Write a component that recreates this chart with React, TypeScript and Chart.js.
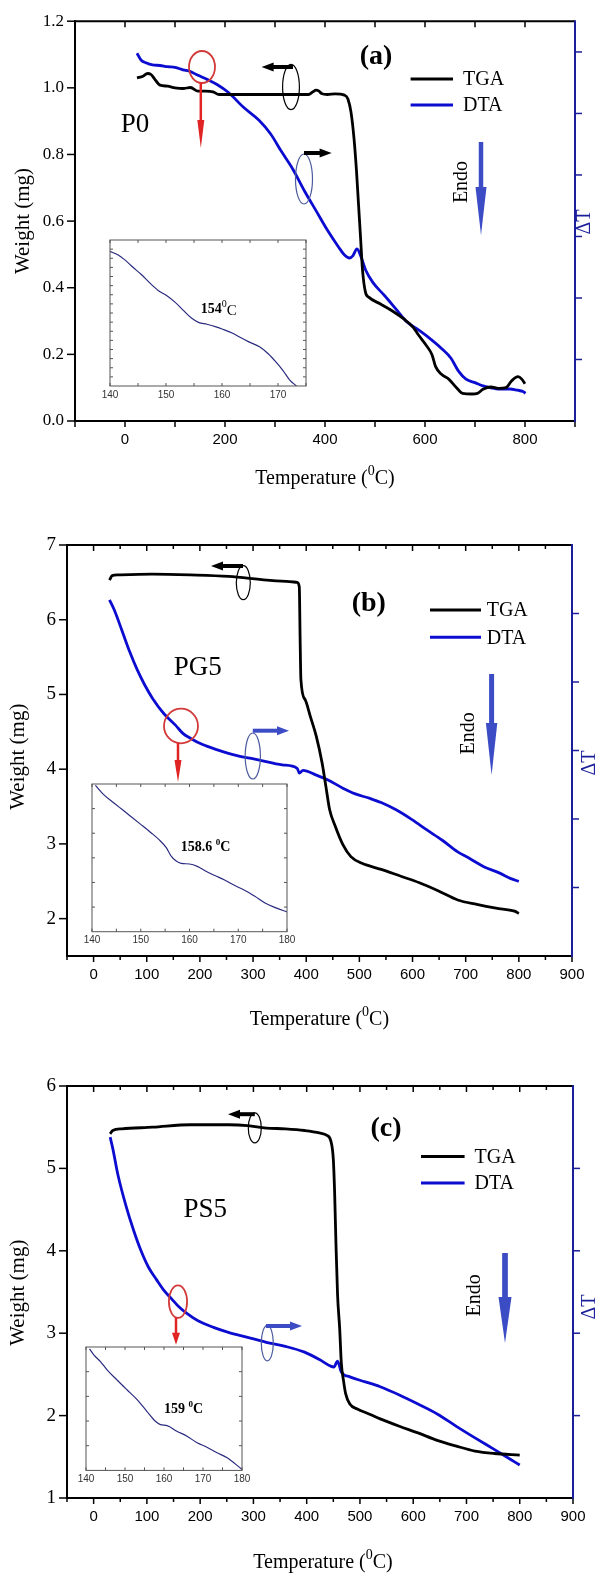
import React, { useEffect, useRef } from 'react';
import { Chart, registerables } from 'chart.js';

Chart.register(...registerables);

const SERIF = '"Liberation Serif", "Times New Roman", serif';
const SANS = '"Liberation Sans", Arial, sans-serif';
const PAGE_W = 596;
const BLUE = '#0c0cd0';
const NAVY = '#1b1f9a';
const ARROW_BLUE = '#3b4cc4';
const RED = '#e02424';
const ELLIPSE_BLUE = '#4b5a9e';
const INSET_LINE = '#2b2b80';

// ---------- Panel (a) : P0 ----------
const tgaTempA = [24, 36, 45, 52, 59, 70, 85, 100, 116, 131, 146, 161, 176, 188, 207, 250, 300, 350, 367, 376, 382, 388, 393, 405, 420, 439, 446, 452, 458, 463, 467, 471, 475, 481, 488, 511, 534, 557, 576, 587, 602, 614, 621, 633, 648, 663, 675, 694, 705, 716, 732, 747, 762, 773, 786, 794, 800];
const tgaWeightA = [1.03, 1.035, 1.043, 1.04, 1.027, 1.008, 1.005, 1.0, 0.998, 1.001, 0.99, 0.99, 0.988, 0.98, 0.98, 0.98, 0.98, 0.98, 0.98, 0.988, 0.993, 0.99, 0.983, 0.98, 0.982, 0.978, 0.966, 0.927, 0.848, 0.75, 0.651, 0.553, 0.454, 0.386, 0.371, 0.351, 0.331, 0.307, 0.282, 0.258, 0.228, 0.199, 0.164, 0.14, 0.125, 0.1, 0.083, 0.081, 0.083, 0.095, 0.102, 0.098, 0.1, 0.12, 0.133, 0.125, 0.112];
const dtaTempA = [24, 32, 43, 55, 70, 85, 100, 116, 131, 146, 165, 184, 207, 237, 268, 291, 313, 336, 359, 382, 405, 427, 439, 449, 456, 464, 472, 481, 496, 519, 542, 564, 587, 610, 633, 652, 667, 682, 701, 716, 732, 747, 770, 785, 796, 801];
const dtaSignalA = [5.98, 5.87, 5.82, 5.79, 5.78, 5.76, 5.75, 5.71, 5.68, 5.62, 5.55, 5.47, 5.34, 5.10, 4.89, 4.67, 4.38, 4.09, 3.74, 3.42, 3.10, 2.83, 2.70, 2.65, 2.69, 2.80, 2.67, 2.46, 2.25, 2.04, 1.82, 1.61, 1.48, 1.34, 1.18, 1.02, 0.81, 0.68, 0.62, 0.57, 0.54, 0.52, 0.52, 0.50, 0.48, 0.45];
const insetTempA = [140, 141.4, 142.6, 144.1, 145.6, 147.1, 148.6, 150.1, 151.6, 153.1, 154.6, 155.8, 157.3, 158.8, 160.3, 161.8, 163.3, 164.8, 166.7, 168.2, 169.7, 170.9, 172.1, 173.3];
const insetSignalA = [93.1, 90.8, 87.4, 82.1, 77.1, 71.3, 66.1, 62.6, 58, 52.3, 46.8, 44, 42.7, 41.1, 39, 36.7, 33.5, 30.5, 27.1, 22.5, 16.3, 10.6, 4.1, 0];

// ---------- Panel (b) : PG5 ----------
const tgaTempB = [30, 35, 46, 110, 182, 254, 326, 369, 383, 387, 388.5, 390, 398, 408, 419, 430, 437, 444, 455, 469, 484, 505, 541, 577, 613, 649, 685, 721, 757, 792, 800];
const tgaWeightB = [6.53, 6.59, 6.60, 6.61, 6.60, 6.58, 6.53, 6.51, 6.50, 6.44, 5.77, 5.20, 4.93, 4.70, 4.44, 4.08, 3.77, 3.46, 3.23, 2.99, 2.83, 2.74, 2.66, 2.57, 2.48, 2.37, 2.25, 2.19, 2.14, 2.10, 2.07];
const dtaTempB = [30, 39, 53, 68, 82, 96, 111, 132, 154, 168, 182, 204, 233, 268, 312, 355, 383, 387, 394, 419, 441, 469, 491, 520, 541, 570, 599, 627, 656, 685, 706, 735, 764, 785, 800];
const dtaSignalB = [5.20, 5.05, 4.76, 4.44, 4.18, 3.96, 3.76, 3.54, 3.37, 3.25, 3.18, 3.09, 3.01, 2.93, 2.86, 2.79, 2.74, 2.67, 2.71, 2.64, 2.57, 2.45, 2.37, 2.30, 2.24, 2.13, 1.99, 1.84, 1.69, 1.52, 1.43, 1.30, 1.21, 1.13, 1.09];
const insetTempB = [140.7, 142.4, 144.5, 146.2, 147.9, 150, 152.1, 153.8, 155.2, 156.2, 157.2, 158.3, 160, 161.7, 163.1, 165.2, 167.2, 169.3, 171.4, 173.4, 175.5, 177.6, 180];
const insetSignalB = [100, 93.7, 88, 83.5, 79, 73.4, 67.7, 62.8, 57.6, 51.9, 48.5, 46.7, 46.3, 44.5, 41.8, 38.4, 35.4, 31.6, 28.2, 24.2, 19.6, 16.5, 13.5];

// ---------- Panel (c) : PS5 ----------
const tgaTempC = [31, 36, 53, 111, 182, 253, 289, 324, 360, 396, 424, 438, 445, 450, 452.5, 455, 458, 462, 465, 469, 473, 481, 495, 517, 538, 574, 609, 645, 681, 716, 752, 800];
const tgaWeightC = [5.42, 5.46, 5.48, 5.50, 5.53, 5.53, 5.52, 5.49, 5.48, 5.46, 5.43, 5.40, 5.34, 5.11, 4.70, 4.08, 3.46, 3.05, 2.64, 2.43, 2.27, 2.14, 2.08, 2.02, 1.96, 1.87, 1.79, 1.70, 1.63, 1.57, 1.54, 1.52];
const dtaTempC = [31, 36, 46, 61, 75, 89, 103, 118, 132, 146, 160, 175, 196, 225, 253, 289, 324, 360, 396, 424, 445, 451, 458, 465, 481, 510, 538, 574, 609, 645, 681, 716, 752, 780, 800];
const dtaSignalC = [4.38, 4.24, 3.91, 3.54, 3.25, 3.00, 2.80, 2.65, 2.52, 2.42, 2.32, 2.24, 2.15, 2.07, 2.01, 1.95, 1.89, 1.84, 1.77, 1.68, 1.60, 1.59, 1.66, 1.53, 1.47, 1.41, 1.35, 1.25, 1.14, 1.02, 0.87, 0.73, 0.59, 0.48, 0.40];
const insetTempC = [140.9, 142, 143.7, 145.4, 147.9, 150.5, 153.1, 155.6, 157.8, 159.1, 160.8, 163.3, 165.9, 168.5, 171, 173.6, 176.2, 180];
const insetSignalC = [99.5, 94.6, 89.1, 82.3, 74.2, 66, 57.9, 48.4, 40.2, 37.5, 36.7, 32.1, 28, 22.6, 19, 14.4, 10.3, 0.8];

// ---------- Tick labels ----------
const xLabelsA = [0, 200, 400, 600, 800];
const xLabelsBC = [0, 100, 200, 300, 400, 500, 600, 700, 800, 900];
const yLabelsA = [0, 0.2, 0.4, 0.6, 0.8, 1.0, 1.2];
const yLabelsB = [2, 3, 4, 5, 6, 7];
const yLabelsC = [1, 2, 3, 4, 5, 6];
const rTicksA = [1, 2, 3, 4, 5, 6];
const rTicksB = [1, 2, 3, 4, 5];
const rTicksC = [1, 2, 3, 4];
const insetLabelsA = [140, 150, 160, 170];
const insetLabelsBC = [140, 150, 160, 170, 180];

const pts = (xs: number[], ys: number[]) => xs.map((x, i) => ({ x, y: ys[i] }));

type Part = { t: string; font: string; dy: number };

function drawParts(ctx: CanvasRenderingContext2D, parts: Part[], cx: number, base: number, color = '#000') {
  let total = 0;
  parts.forEach((p) => { ctx.font = p.font; total += ctx.measureText(p.t).width; });
  let x = cx - total / 2;
  ctx.fillStyle = color;
  ctx.textAlign = 'left';
  ctx.textBaseline = 'alphabetic';
  parts.forEach((p) => { ctx.font = p.font; ctx.fillText(p.t, x, base + p.dy); x += ctx.measureText(p.t).width; });
}

function drawArrow(ctx: CanvasRenderingContext2D, x1: number, y1: number, x2: number, y2: number, color: string, shaft: number, headLen: number, headHalf: number) {
  const dx = x2 - x1, dy = y2 - y1;
  const len = Math.hypot(dx, dy);
  const ux = dx / len, uy = dy / len;
  const bx = x2 - ux * headLen, by = y2 - uy * headLen;
  ctx.save();
  ctx.strokeStyle = color; ctx.fillStyle = color; ctx.lineWidth = shaft; ctx.lineCap = 'butt';
  ctx.beginPath(); ctx.moveTo(x1, y1); ctx.lineTo(bx + ux, by + uy); ctx.stroke();
  ctx.beginPath();
  ctx.moveTo(x2, y2);
  ctx.lineTo(bx - uy * headHalf, by + ux * headHalf);
  ctx.lineTo(bx + uy * headHalf, by - ux * headHalf);
  ctx.closePath(); ctx.fill();
  ctx.restore();
}

function ellipse(ctx: CanvasRenderingContext2D, cx: number, cy: number, rx: number, ry: number, color: string, lw: number) {
  ctx.save(); ctx.strokeStyle = color; ctx.lineWidth = lw;
  ctx.beginPath(); ctx.ellipse(cx, cy, rx, ry, 0, 0, Math.PI * 2); ctx.stroke(); ctx.restore();
}

function line(ctx: CanvasRenderingContext2D, x1: number, y1: number, x2: number, y2: number) {
  ctx.beginPath(); ctx.moveTo(x1, y1); ctx.lineTo(x2, y2); ctx.stroke();
}

function rotText(ctx: CanvasRenderingContext2D, text: string, cx: number, cy: number, font: string, color: string, angle: number) {
  ctx.save(); ctx.translate(cx, cy); ctx.rotate(angle);
  ctx.font = font; ctx.fillStyle = color; ctx.textAlign = 'center'; ctx.textBaseline = 'middle';
  ctx.fillText(text, 0, 0); ctx.restore();
}

interface PanelCfg {
  top: number; height: number; area: [number, number, number, number];
  xMin: number; xMax: number; xTickStep: number;
  yMin: number; yMax: number; rMax: number;
  xLabels: number[]; yLabels: number[]; yDec: number; yFont: number; rTicks: number[];
  tga: { x: number; y: number }[]; dta: { x: number; y: number }[];
  tag: string; tagPos: [number, number]; sample: string; samplePos: [number, number];
  legX: [number, number]; legY: [number, number]; legTextX: number;
  redEll: [number, number, number, number]; redArrow: [number, number, number, number, number];
  leftArrow: [number, number, number]; leftEll: [number, number, number, number];
  rightArrow: [number, number, number]; rightColor: string; rightEll: [number, number, number, number];
  endoPos: [number, number]; endoArrow: [number, number, number, number, number, number];
  yTitle: [number, number]; xTitle: [number, number]; dT: [number, number];
}

const panels: PanelCfg[] = [
  {
    top: 0, height: 500, area: [75, 14, 575, 421],
    xMin: -100, xMax: 900, xTickStep: 100, yMin: 0, yMax: 1.2, rMax: 6.5,
    xLabels: xLabelsA, yLabels: yLabelsA, yDec: 1, yFont: 17, rTicks: rTicksA,
    tga: pts(tgaTempA, tgaWeightA), dta: pts(dtaTempA, dtaSignalA),
    tag: '(a)', tagPos: [376, 57], sample: 'P0', samplePos: [135, 125],
    legX: [410.6, 453], legY: [79, 105], legTextX: 463,
    redEll: [202, 67, 13, 16], redArrow: [200.8, 83, 148, 28, 3.5],
    leftArrow: [293, 261.6, 67], leftEll: [291, 87, 8.4, 22.7],
    rightArrow: [304, 331.6, 153], rightColor: '#000', rightEll: [304, 179, 8.5, 25],
    endoPos: [462, 182], endoArrow: [481, 142, 235, 48, 5.5, 4.5],
    yTitle: [23, 221], xTitle: [325, 477], dT: [585, 222],
  },
  {
    top: 500, height: 530, area: [67, 545, 572, 956],
    xMin: -50, xMax: 900, xTickStep: 50, yMin: 1.5, yMax: 7, rMax: 6,
    xLabels: xLabelsBC, yLabels: yLabelsB, yDec: 0, yFont: 19, rTicks: rTicksB,
    tga: pts(tgaTempB, tgaWeightB), dta: pts(dtaTempB, dtaSignalB),
    tag: '(b)', tagPos: [368.8, 603.3], sample: 'PG5', samplePos: [197.7, 668.3],
    legX: [430, 481], legY: [610, 637.3], legTextX: 486.7,
    redEll: [181, 726, 17, 17.3], redArrow: [178, 743, 782, 22, 3.5],
    leftArrow: [243, 211, 566], leftEll: [243.3, 582.7, 7, 17],
    rightArrow: [252.8, 289, 730.7], rightColor: ARROW_BLUE, rightEll: [252.8, 756, 7.6, 23],
    endoPos: [468.4, 733.3], endoArrow: [491.6, 674, 775, 52, 5.7, 5],
    yTitle: [18.3, 756.7], xTitle: [319.4, 1018.3], dT: [590, 763],
  },
  {
    top: 1030, height: 544, area: [67, 1086, 573, 1498],
    xMin: -50, xMax: 900, xTickStep: 50, yMin: 1, yMax: 6, rMax: 5,
    xLabels: xLabelsBC, yLabels: yLabelsC, yDec: 0, yFont: 19, rTicks: rTicksC,
    tga: pts(tgaTempC, tgaWeightC), dta: pts(dtaTempC, dtaSignalC),
    tag: '(c)', tagPos: [386, 1129.2], sample: 'PS5', samplePos: [205.3, 1210.3],
    legX: [421, 464.6], legY: [1156.5, 1183], legTextX: 474.5,
    redEll: [178, 1301.6, 9.1, 16.3], redArrow: [176, 1317.6, 1344.8, 12, 4],
    leftArrow: [254.8, 228, 1114.2], leftEll: [254.8, 1127.9, 6.5, 15],
    rightArrow: [266, 302, 1326], rightColor: ARROW_BLUE, rightEll: [267.3, 1343.1, 6, 17.7],
    endoPos: [474.5, 1295.4], endoArrow: [505, 1253, 1343, 46, 6.5, 5.7],
    yTitle: [18.3, 1292.7], xTitle: [323, 1561], dT: [590, 1307],
  },
];

interface InsetCfg {
  box: [number, number, number, number]; xMax: number; labels: number[];
  data: { x: number; y: number }[]; sideTicks: number;
  text: Part[]; textPos: [number, number];
}

const insets: InsetCfg[] = [
  {
    box: [109.5, 239.5, 305, 385.5], xMax: 175, labels: insetLabelsA, data: pts(insetTempA, insetSignalA), sideTicks: 16,
    text: [
      { t: '154', font: `bold 14px ${SERIF}`, dy: 0 },
      { t: '0', font: `10px ${SERIF}`, dy: -6 },
      { t: 'C', font: `15px ${SERIF}`, dy: 2 },
    ], textPos: [218.3, 307.3],
  },
  {
    box: [91.5, 784, 286, 931.7], xMax: 180, labels: insetLabelsBC, data: pts(insetTempB, insetSignalB), sideTicks: 6,
    text: [
      { t: '158.6 ', font: `bold 14px ${SERIF}`, dy: 0 },
      { t: '0', font: `bold 9px ${SERIF}`, dy: -6 },
      { t: 'C', font: `bold 14px ${SERIF}`, dy: 0 },
    ], textPos: [205, 846],
  },
  {
    box: [85.7, 1346.6, 241.5, 1470], xMax: 180, labels: insetLabelsBC, data: pts(insetTempC, insetSignalC), sideTicks: 5,
    text: [
      { t: '159 ', font: `bold 14px ${SERIF}`, dy: 0 },
      { t: '0', font: `bold 9px ${SERIF}`, dy: -6 },
      { t: 'C', font: `bold 14px ${SERIF}`, dy: 0 },
    ], textPos: [183.3, 1407.3],
  },
];

function MainPanel({ p }: { p: PanelCfg }) {
  const ref = useRef<HTMLCanvasElement>(null);
  useEffect(() => {
    const canvas = ref.current!;
    const [aL, aT, aR, aB] = p.area;
    const oy = p.top;
    const decor = {
      id: 'decor',
      afterDraw(chart: any) {
        const ctx: CanvasRenderingContext2D = chart.ctx;
        const { left, right, top, bottom } = chart.chartArea;
        const xs = chart.scales.x, ys = chart.scales.y, rs = chart.scales.y1;
        ctx.save();
        // tick marks
        ctx.strokeStyle = '#000'; ctx.lineWidth = 1.5;
        for (let v = p.xMin; v <= p.xMax + 1e-6; v += p.xTickStep) {
          const px = xs.getPixelForValue(v);
          const L = Math.abs(v % 100) < 1e-6 ? 6 : 4;
          line(ctx, px, bottom, px, bottom + L);
          line(ctx, px, top, px, top + L);
        }
        p.yLabels.forEach((v) => { const py = ys.getPixelForValue(v); line(ctx, left - 8, py, left, py); });
        // borders
        ctx.lineWidth = 2;
        line(ctx, left, top - 1, left, bottom + 1);
        line(ctx, left - 1, bottom, right, bottom);
        line(ctx, left - 1, top, right, top);
        ctx.strokeStyle = NAVY;
        line(ctx, right, top - 1, right, bottom + 1);
        ctx.lineWidth = 1.5;
        p.rTicks.forEach((v) => { const py = rs.getPixelForValue(v); line(ctx, right, py, right + 7, py); });

        // titles
        rotText(ctx, 'Weight (mg)', p.yTitle[0], p.yTitle[1] - oy, `21px ${SERIF}`, '#000', -Math.PI / 2);
        drawParts(ctx, [
          { t: 'Temperature (', font: `20px ${SERIF}`, dy: 0 },
          { t: '0', font: `14px ${SERIF}`, dy: -9 },
          { t: 'C)', font: `20px ${SERIF}`, dy: 0 },
        ], p.xTitle[0], p.xTitle[1] - oy + 7);
        rotText(ctx, '\u0394T', p.dT[0], p.dT[1] - oy, `20px ${SERIF}`, NAVY, -Math.PI / 2);

        // panel tag & sample
        ctx.fillStyle = '#000'; ctx.textAlign = 'center'; ctx.textBaseline = 'middle';
        ctx.font = `bold 28px ${SERIF}`; ctx.fillText(p.tag, p.tagPos[0], p.tagPos[1] - oy);
        ctx.font = `27px ${SERIF}`; ctx.fillText(p.sample, p.samplePos[0], p.samplePos[1] - oy);

        // legend
        ctx.lineWidth = 3;
        ctx.strokeStyle = '#000'; line(ctx, p.legX[0], p.legY[0] - oy, p.legX[1], p.legY[0] - oy);
        ctx.strokeStyle = BLUE; line(ctx, p.legX[0], p.legY[1] - oy, p.legX[1], p.legY[1] - oy);
        ctx.font = `20px ${SERIF}`; ctx.fillStyle = '#000'; ctx.textAlign = 'left'; ctx.textBaseline = 'middle';
        ctx.fillText('TGA', p.legTextX, p.legY[0] - oy + 1);
        ctx.fillText('DTA', p.legTextX, p.legY[1] - oy + 1);

        // red marker
        ellipse(ctx, p.redEll[0], p.redEll[1] - oy, p.redEll[2], p.redEll[3], '#d23a3a', 1.8);
        drawArrow(ctx, p.redArrow[0], p.redArrow[1] - oy, p.redArrow[0], p.redArrow[2] - oy, RED, 2.5, p.redArrow[3], p.redArrow[4]);

        // axis pointers
        ellipse(ctx, p.leftEll[0], p.leftEll[1] - oy, p.leftEll[2], p.leftEll[3], '#000', 1.2);
        drawArrow(ctx, p.leftArrow[0], p.leftArrow[2] - oy, p.leftArrow[1], p.leftArrow[2] - oy, '#000', 4, 12, 4.5);
        ellipse(ctx, p.rightEll[0], p.rightEll[1] - oy, p.rightEll[2], p.rightEll[3], ELLIPSE_BLUE, 1.2);
        drawArrow(ctx, p.rightArrow[0], p.rightArrow[2] - oy, p.rightArrow[1], p.rightArrow[2] - oy, p.rightColor, 4, 12, 4.5);

        // Endo
        rotText(ctx, 'Endo', p.endoPos[0], p.endoPos[1] - oy, `20px ${SERIF}`, '#000', -Math.PI / 2);
        const [ex, ey1, ey2, eh, ehw, esw] = p.endoArrow;
        drawArrow(ctx, ex, ey1 - oy, ex, ey2 - oy, ARROW_BLUE, esw, eh, ehw);
        ctx.restore();
      },
    };
    const chart = new Chart(canvas, {
      type: 'line',
      data: {
        datasets: [
          { label: 'TGA', data: p.tga, yAxisID: 'y', borderColor: '#000', borderWidth: 2.8, pointRadius: 0, cubicInterpolationMode: 'monotone', fill: false },
          { label: 'DTA', data: p.dta, yAxisID: 'y1', borderColor: BLUE, borderWidth: 2.8, pointRadius: 0, cubicInterpolationMode: 'monotone', fill: false },
        ],
      },
      options: {
        responsive: false,
        animation: false,
        events: [],
        layout: { padding: { top: aT - p.top, left: 0, right: 0, bottom: 0 } },
        plugins: { legend: { display: false }, tooltip: { enabled: false } },
        scales: {
          x: {
            type: 'linear', position: 'bottom', min: p.xMin, max: p.xMax,
            grid: { display: false, drawTicks: false }, border: { display: false },
            ticks: { font: { family: SANS, size: 15 }, color: '#000', padding: 10, maxRotation: 0, autoSkip: false, callback: (v: any) => String(v) },
            afterBuildTicks: (s: any) => { s.ticks = p.xLabels.map((v) => ({ value: v })); },
            afterFit: (s: any) => { s.height = p.height - (aB - p.top); },
          },
          y: {
            type: 'linear', position: 'left', min: p.yMin, max: p.yMax,
            grid: { display: false, drawTicks: false }, border: { display: false },
            ticks: { font: { family: SERIF, size: p.yFont }, color: '#000', padding: 11, autoSkip: false, callback: (v: any) => Number(v).toFixed(p.yDec) },
            afterBuildTicks: (s: any) => { s.ticks = p.yLabels.map((v) => ({ value: v })); },
            afterFit: (s: any) => { s.width = aL; },
          },
          y1: {
            type: 'linear', position: 'right', min: 0, max: p.rMax,
            grid: { display: false, drawTicks: false }, border: { display: false },
            ticks: { display: false },
            afterFit: (s: any) => { s.width = PAGE_W - aR; },
          },
        },
      } as any,
      plugins: [decor],
    });
    return () => chart.destroy();
  }, []);
  return <canvas ref={ref} width={PAGE_W} height={p.height} style={{ position: 'absolute', left: 0, top: p.top, width: PAGE_W, height: p.height }} />;
}

function InsetPanel({ s }: { s: InsetCfg }) {
  const ref = useRef<HTMLCanvasElement>(null);
  const [bL, bT, bR, bB] = s.box;
  const cl = bL - 12, ct = bT - 8;
  const cw = Math.round(bR - bL + 26), ch = Math.round(bB - bT + 26);
  useEffect(() => {
    const canvas = ref.current!;
    const decor = {
      id: 'insetDecor',
      beforeDatasetsDraw(chart: any) {
        const ctx: CanvasRenderingContext2D = chart.ctx;
        const { left, right, top, bottom } = chart.chartArea;
        ctx.save(); ctx.fillStyle = '#fff'; ctx.fillRect(left, top, right - left, bottom - top); ctx.restore();
      },
      afterDraw(chart: any) {
        const ctx: CanvasRenderingContext2D = chart.ctx;
        const { left, right, top, bottom } = chart.chartArea;
        const xs = chart.scales.x;
        ctx.save();
        ctx.strokeStyle = '#555'; ctx.lineWidth = 1;
        ctx.strokeRect(left, top, right - left, bottom - top);
        for (let v = 140; v <= s.xMax + 1e-6; v += 5) {
          const px = xs.getPixelForValue(v);
          line(ctx, px, bottom, px, bottom - 3);
          line(ctx, px, top, px, top + 3);
        }
        for (let i = 1; i < s.sideTicks; i++) {
          const py = top + ((bottom - top) * i) / s.sideTicks;
          line(ctx, left, py, left + 3, py);
          line(ctx, right, py, right - 3, py);
        }
        drawParts(ctx, s.text, s.textPos[0] - cl, s.textPos[1] - ct + 5, '#000');
        ctx.restore();
      },
    };
    const chart = new Chart(canvas, {
      type: 'line',
      data: { datasets: [{ data: s.data, borderColor: INSET_LINE, borderWidth: 1.2, pointRadius: 0, cubicInterpolationMode: 'monotone', fill: false }] },
      options: {
        responsive: false, animation: false, events: [],
        layout: { padding: { left: 12, top: 8, right: 14, bottom: 0 } },
        plugins: { legend: { display: false }, tooltip: { enabled: false } },
        scales: {
          x: {
            type: 'linear', min: 140, max: s.xMax,
            grid: { display: false, drawTicks: false }, border: { display: false },
            ticks: { font: { family: SANS, size: 10 }, color: '#333', padding: 3, maxRotation: 0, autoSkip: false },
            afterBuildTicks: (sc: any) => { sc.ticks = s.labels.map((v) => ({ value: v })); },
            afterFit: (sc: any) => { sc.height = ch - 8 - (bB - bT); },
          },
          y: { display: false, min: 0, max: 101 },
        },
      } as any,
      plugins: [decor],
    });
    return () => chart.destroy();
  }, []);
  return <canvas ref={ref} width={cw} height={ch} style={{ position: 'absolute', left: cl, top: ct, width: cw, height: ch }} />;
}

export default function App() {
  return (
    <div style={{ position: 'absolute', left: 0, top: 0, width: PAGE_W, height: 1574, background: '#fff', overflow: 'hidden' }}>
      {panels.map((p, i) => <MainPanel key={'m' + i} p={p} />)}
      {insets.map((s, i) => <InsetPanel key={'i' + i} s={s} />)}
    </div>
  );
}
